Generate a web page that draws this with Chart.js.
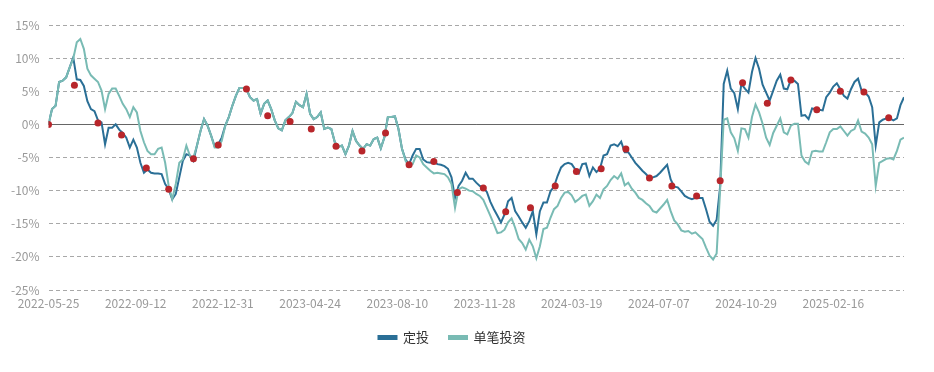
<!DOCTYPE html>
<html>
<head>
<meta charset="utf-8">
<script src="https://cdn.jsdelivr.net/npm/chart.js@4/dist/chart.umd.min.js"></script>
<style>
  html, body { margin: 0; padding: 0; background: #fff; }
  #wrap { width: 934px; height: 372px; }
</style>
</head>
<body>
<div id="wrap"><canvas id="returnChart"></canvas></div>
<script>
// x axis is trading-day index; a label every TICK_STEP days
const tickLabels = ['2022-05-25', '2022-09-12', '2022-12-31', '2023-04-24', '2023-08-10',
    '2023-11-28', '2024-03-19', '2024-07-07', '2024-10-29', '2025-02-16'];
const TICK_STEP = 74;
const SAMPLE_STEP = 3;   // one value every 3 trading days

// 定投 cumulative return (%)
const dingTou = [
    0, 2.3, 2.8, 6.4, 6.6, 7.1, 8.6, 10.1, 6.8, 6.7,
    5.8, 3.5, 2.3, 2.0, 0.6, 0.3, -3.0, -0.5, -0.5, 0,
    -0.8, -1.3, -2.0, -3.5, -2.3, -3.5, -5.8, -7.3, -6.8, -7.3,
    -7.4, -7.4, -7.5, -9.0, -9.8, -11.3, -10.5, -8.0, -5.5, -4.5,
    -4.7, -5.5, -3.2, -1.0, 0.8, -0.2, -1.7, -3.3, -3.0, -2.0,
    -0.2, 1.1, 2.8, 4.3, 5.5, 5.5, 5.3, 4.1, 3.6, 3.8,
    1.6, 3.1, 3.6, 2.3, 0.6, -0.6, -0.9, 0.6, 1.1, 1.7,
    3.4, 2.9, 2.6, 4.6, 1.6, 0.8, 1.1, 1.8, -0.7, -0.5,
    -0.7, -2.7, -3.4, -3.2, -4.5, -3.2, -1.0, -2.5, -3.2, -3.7,
    -3.0, -3.2, -2.2, -2.0, -3.6, -2.0, 1.1, 1.1, 1.2, -0.7,
    -3.7, -5.3, -6.0, -4.7, -3.7, -3.7, -5.3, -5.7, -5.8, -5.6,
    -6.0, -6.1, -6.3, -6.7, -8.0, -11.1, -9.3, -8.5, -7.3, -8.2,
    -8.2, -8.8, -9.3, -9.6, -10.2, -11.7, -12.8, -13.8, -14.8, -13.6,
    -11.6, -11.1, -13.1, -13.9, -14.8, -15.6, -14.6, -13.1, -16.6, -13.1,
    -11.8, -11.8, -10.1, -9.4, -7.8, -6.5, -6.0, -5.8, -6.0, -6.8,
    -7.4, -6.0, -5.9, -7.8, -6.5, -7.2, -6.7, -4.7, -4.5, -3.2,
    -3.0, -3.3, -2.6, -4.2, -4.2, -5.0, -5.8, -6.4, -7.0, -7.5,
    -8.1, -8.0, -7.8, -7.3, -6.7, -6.1, -8.3, -9.4, -9.5, -10.1,
    -10.8, -11.1, -11.3, -11.1, -11.1, -11.1, -12.8, -14.7, -15.3, -14.4,
    -9.3, 6.1, 8.1, 5.4, 4.7, 2.3, 6.1, 5.4, 4.8, 7.9,
    10.0, 8.4, 6.0, 4.8, 3.6, 5.1, 6.6, 7.5, 5.4, 5.3,
    6.7, 6.6, 6.1, 1.3, 1.4, 0.8, 2.4, 2.3, 2.2, 2.1,
    4.1, 4.8, 5.7, 6.2, 5.3, 4.3, 3.9, 5.3, 6.4, 6.9,
    5.1, 4.8, 4.2, 2.6, -3.2, 0.3, 0.7, 0.9, 0.9, 0.6,
    0.9, 2.9, 4.1
];

// 单笔投资 cumulative return (%)
const danBi = [
    0, 2.3, 2.8, 6.4, 6.6, 7.1, 8.6, 9.9, 12.4, 12.9,
    11.4, 8.4, 7.4, 6.9, 6.4, 5.1, 2.3, 4.6, 5.4, 5.4,
    4.3, 3.1, 2.3, 1.1, 2.6, 1.8, -1.0, -2.7, -4.0, -4.5,
    -4.5, -3.7, -3.5, -5.8, -9.3, -11.3, -9.0, -5.8, -5.3, -3.2,
    -4.7, -5.0, -3.2, -1.0, 0.8, -0.2, -1.7, -3.5, -3.5, -2.5,
    -0.2, 1.1, 2.8, 4.3, 5.5, 5.5, 5.3, 4.1, 3.6, 3.8,
    1.6, 3.1, 3.6, 2.3, 0.6, -0.6, -0.9, 0.6, 1.1, 1.7,
    3.4, 2.9, 2.6, 4.6, 1.6, 0.8, 1.1, 1.8, -0.7, -0.5,
    -0.7, -2.7, -3.4, -3.2, -4.5, -3.2, -1.0, -2.5, -3.2, -3.7,
    -3.0, -3.2, -2.2, -2.0, -3.6, -2.0, 1.1, 1.1, 1.2, -0.7,
    -3.7, -5.5, -6.4, -6.0, -4.7, -5.0, -6.0, -6.5, -7.0, -7.4,
    -7.3, -7.4, -7.5, -8.0, -9.0, -12.6, -9.8, -9.5, -9.7, -10.0,
    -10.1, -10.5, -10.8, -11.4, -12.6, -13.8, -15.1, -16.4, -16.3, -15.9,
    -14.8, -14.2, -15.6, -17.3, -17.9, -18.9, -17.4, -18.4, -20.2, -18.4,
    -15.8, -15.6, -14.1, -12.8, -12.3, -11.1, -10.3, -10.2, -10.7, -11.7,
    -11.3, -10.8, -10.6, -12.3, -11.6, -10.6, -11.1, -9.8, -9.3, -8.4,
    -7.8, -8.2, -7.4, -9.2, -8.8, -9.7, -10.3, -11.1, -11.4, -11.9,
    -12.3, -13.1, -13.3, -12.7, -12.1, -11.4, -13.1, -14.5, -15.1, -16.0,
    -16.2, -16.1, -16.5, -16.3, -16.8, -17.3, -18.6, -19.8, -20.4, -19.5,
    -9.8, 0.7, 0.9, -1.2, -2.1, -4.0, -0.6, -0.7, -2.0, 1.1,
    3.0, 1.8, 0.1, -2.0, -3.1, -1.3, -0.2, 0.9, -1.2, -1.5,
    -0.2, 0.1, 0.1, -4.7, -5.6, -6.0, -4.1, -4.0, -4.1, -4.1,
    -2.7, -1.2, -0.7, -0.7, -0.3, -1.0, -1.7, -1.0, -0.7, 0.6,
    -1.1, -1.4, -2.0, -3.0, -9.3, -5.8, -5.5, -5.2, -5.1, -5.3,
    -4.0, -2.3, -2.0
];

// monthly purchase points on the 定投 line
const buyDays = [0, 22, 42, 62, 83, 102, 123, 144, 168, 186, 205, 223, 244, 266, 286, 306, 327, 347,
    369, 388, 409, 430, 448, 469, 490, 510, 529, 550, 570, 589, 610, 630, 652, 672, 692, 713];
const buyValues = [0, 5.9, 0.2, -1.6, -6.6, -9.8, -5.2, -3.1, 5.35, 1.3, 0.45, -0.7, -3.3, -4.0, -1.3, -6.1, -5.6, -10.3,
    -9.6, -13.2, -12.6, -9.3, -7.1, -6.7, -3.7, -8.1, -9.3, -10.8, -8.5, 6.3, 3.2, 6.7, 2.2, 5.0, 4.9, 1.0];

const yTicks = [-25, -20, -15, -10, -5, 0, 5, 10, 15];

const darkBlue = '#2a6f96';
const teal = '#79bbb4';
const red = '#b8262b';

function toPoints(values) {
    return values.map((v, i) => ({ x: i * SAMPLE_STEP, y: v }));
}

// solid line at 0%
const zeroLine = {
    id: 'zeroLine',
    beforeDatasetsDraw(chart) {
        const { ctx, chartArea, scales } = chart;
        const y = Math.round(scales.y.getPixelForValue(0)) + 0.5;
        ctx.save();
        ctx.strokeStyle = '#666';
        ctx.lineWidth = 1;
        ctx.beginPath();
        ctx.moveTo(chartArea.left, y);
        ctx.lineTo(chartArea.right, y);
        ctx.stroke();
        ctx.restore();
    }
};

const tickFont = { size: 12, family: '"Noto Sans CJK SC", "Noto Sans", sans-serif' };

new Chart(document.getElementById('returnChart'), {
    type: 'line',
    data: {
        datasets: [{
            label: '定投',
            data: toPoints(dingTou),
            borderColor: darkBlue,
            backgroundColor: darkBlue,
            borderWidth: 2,
            pointRadius: 0,
            tension: 0,
            order: 2
        }, {
            label: '单笔投资',
            data: toPoints(danBi),
            borderColor: teal,
            backgroundColor: teal,
            borderWidth: 2,
            pointRadius: 0,
            tension: 0,
            order: 1
        }, {
            label: 'buy',
            data: buyDays.map((d, i) => ({ x: d, y: buyValues[i] })),
            showLine: false,
            pointRadius: 3.5,
            pointBackgroundColor: red,
            pointBorderColor: red,
            pointBorderWidth: 0,
            order: 0
        }]
    },
    options: {
        responsive: true,
        maintainAspectRatio: false,
        animation: false,
        layout: {
            padding: { top: 25, right: 30, bottom: 18, left: 0 }
        },
        plugins: {
            tooltip: { enabled: false },
            legend: {
                position: 'bottom',
                labels: {
                    boxWidth: 18,
                    boxHeight: 3,
                    padding: 20,
                    color: '#333',
                    font: { size: 13, family: '"Noto Sans CJK SC", sans-serif' },
                    filter: item => item.text !== 'buy',
                    sort: (a, b) => a.datasetIndex - b.datasetIndex
                }
            }
        },
        scales: {
            x: {
                type: 'linear',
                min: 0,
                max: (dingTou.length - 1) * SAMPLE_STEP,
                grid: { display: false, drawTicks: false },
                border: { display: false },
                afterFit: scale => { scale.height = 21; },
                afterBuildTicks: axis => {
                    axis.ticks = tickLabels.map((_, i) => ({ value: i * TICK_STEP }));
                },
                ticks: {
                    autoSkip: false,
                    maxRotation: 0,
                    padding: 6,
                    color: '#999',
                    font: tickFont,
                    callback: value => tickLabels[Math.round(value / TICK_STEP)]
                }
            },
            y: {
                min: -25,
                max: 15,
                afterFit: scale => { scale.width = 48.5; },
                afterBuildTicks: axis => {
                    axis.ticks = yTicks.map(v => ({ value: v }));
                },
                grid: { color: '#a8a8a8', drawTicks: false },
                border: { display: false, dash: [4, 3] },
                ticks: {
                    padding: 9,
                    color: '#999',
                    font: tickFont,
                    callback: value => value + '%'
                }
            }
        }
    },
    plugins: [zeroLine]
});
</script>
</body>
</html>
